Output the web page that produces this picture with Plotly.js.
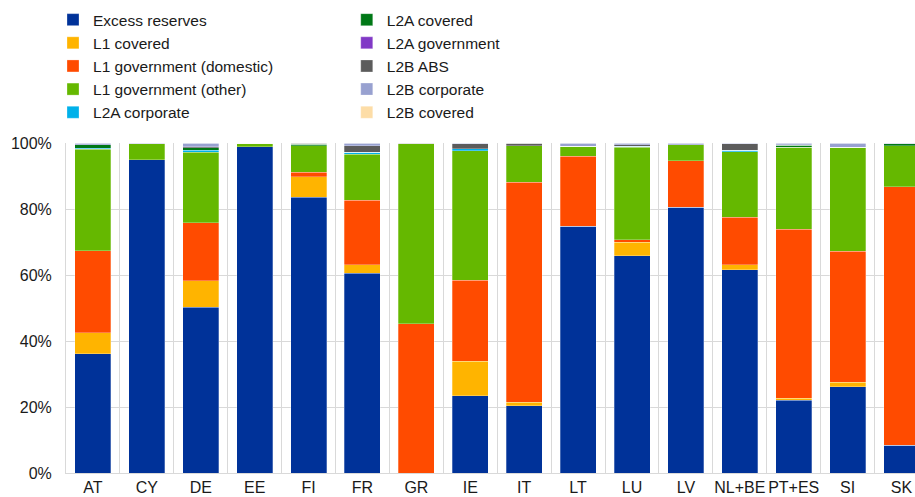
<!DOCTYPE html>
<html>
<head>
<meta charset="utf-8">
<script src="https://cdn.plot.ly/plotly-3.0.1.min.js"></script>
<style>
html,body{margin:0;padding:0;background:#fff;overflow:hidden;}
#chart{width:915px;height:497px;}
</style>
</head>
<body>
<div id="chart"></div>
<script>
// Categories (countries)
const countries = ["AT","CY","DE","EE","FI","FR","GR","IE","IT","LT","LU","LV","NL+BE","PT+ES","SI","SK"];

// Series values (% of total), bottom to top in the stack
const excessReserves   = [36.2, 95.0, 50.2, 98.8, 83.5, 60.5,  0.0, 23.4, 20.4, 74.8, 65.8, 80.5, 61.6, 22.0, 26.2,  8.4];
const l1Covered        = [ 6.3,  0.0,  8.1,  0.0,  6.2,  2.6,  0.0, 10.4,  1.1,  0.0,  4.2,  0.0,  1.5,  0.6,  1.3,  0.0];
const l1GovDomestic    = [24.9,  0.0, 17.6,  0.0,  1.4, 19.6, 45.2, 24.6, 66.6, 21.2,  0.7, 14.1, 14.4, 51.2, 39.7, 78.4];
const l1GovOther       = [30.7,  4.8, 21.3,  1.1,  8.1, 13.9, 54.6, 39.2, 11.0,  3.0, 28.0,  4.8, 19.8, 24.9, 31.5, 12.4];
const l2aCorporate     = [ 0.3,  0.0,  0.6,  0.0,  0.0,  0.6,  0.0,  0.6,  0.0,  0.0,  0.3,  0.0,  0.5,  0.0,  0.0,  0.0];
const l2aCovered       = [ 1.0,  0.0,  0.7,  0.0,  0.4,  0.0,  0.0,  0.0,  0.0,  0.0,  0.0,  0.0,  0.0,  0.6,  0.0,  0.5];
const l2aGovernment    = [ 0.0,  0.0,  0.0,  0.0,  0.0,  0.0,  0.0,  0.0,  0.0,  0.0,  0.0,  0.0,  0.0,  0.0,  0.0,  0.0];
const l2bABS           = [ 0.0,  0.0,  0.4,  0.0,  0.4,  2.0,  0.2,  1.6,  0.9,  0.0,  0.5,  0.0,  1.9,  0.2,  0.0,  0.0];
const l2bCorporate     = [ 0.6,  0.2,  1.1,  0.1,  0.0,  0.8,  0.0,  0.2,  0.0,  1.0,  0.5,  0.6,  0.3,  0.5,  1.3,  0.3];
const l2bCovered       = [ 0.0,  0.0,  0.0,  0.0,  0.0,  0.0,  0.0,  0.0,  0.0,  0.0,  0.0,  0.0,  0.0,  0.0,  0.0,  0.0];

// Series names and colours
const seriesNames  = ["Excess reserves","L1 covered","L1 government (domestic)","L1 government (other)","L2A corporate",
                      "L2A covered","L2A government","L2B ABS","L2B corporate","L2B covered"];
const seriesValues = [excessReserves,l1Covered,l1GovDomestic,l1GovOther,l2aCorporate,
                      l2aCovered,l2aGovernment,l2bABS,l2bCorporate,l2bCovered];
const seriesColors = ["#003299","#FFB400","#FF4B00","#65B800","#00B1EA",
                      "#007816","#8139C6","#5C5C5C","#98A1D0","#FDDDA7"];

const FONT = "Arial, 'Liberation Sans', sans-serif";

const traces = seriesNames.map((name, i) => ({
  type: "bar",
  name: name,
  x: countries,
  y: seriesValues[i],
  marker: {color: seriesColors[i], line: {width: 0.5, color: "rgba(255,255,255,0.55)"}},
  legend: i < 5 ? "legend" : "legend2",
  hovertemplate: "%{x}: %{y:.1f}%<extra>" + name + "</extra>"
}));

const legendCommon = {
  orientation: "v",
  traceorder: "normal",
  font: {family: FONT, size: 15.5, color: "#1a1a1a"},
  bgcolor: "rgba(0,0,0,0)",
  borderwidth: 0,
  xanchor: "left",
  yanchor: "top",
  tracegroupgap: 0
};

const layout = {
  width: 915,
  height: 497,
  barmode: "stack",
  bargap: 0.332,
  paper_bgcolor: "#ffffff",
  plot_bgcolor: "#ffffff",
  font: {family: FONT, size: 16, color: "#1a1a1a"},
  margin: {l: 66, r: 0, t: 143, b: 24, autoexpand: false},
  showlegend: true,
  legend: Object.assign({}, legendCommon, {x: -0.0153, y: 1.424}),
  legend2: Object.assign({}, legendCommon, {x: 0.3307, y: 1.424}),
  xaxis: {
    type: "category",
    range: [-0.5, 15.25],
    tickson: "boundaries",
    tickangle: 0,
    showgrid: true,
    gridcolor: "#d9d9d9",
    gridwidth: 1,
    showline: true,
    linecolor: "#d9d9d9",
    linewidth: 1,
    ticks: "",
    ticklabelstandoff: 0,
    tickfont: {family: FONT, size: 16, color: "#1a1a1a"},
    fixedrange: true
  },
  yaxis: {
    range: [0, 100],
    dtick: 20,
    tick0: 0,
    ticksuffix: "%",
    showgrid: true,
    gridcolor: "#d9d9d9",
    gridwidth: 1,
    showline: true,
    linecolor: "#d9d9d9",
    linewidth: 1,
    zeroline: false,
    ticks: "",
    ticklabelstandoff: 10,
    tickfont: {family: FONT, size: 16, color: "#1a1a1a"},
    fixedrange: true
  }
};

Plotly.newPlot("chart", traces, layout, {displayModeBar: false, staticPlot: true});
</script>
</body>
</html>
